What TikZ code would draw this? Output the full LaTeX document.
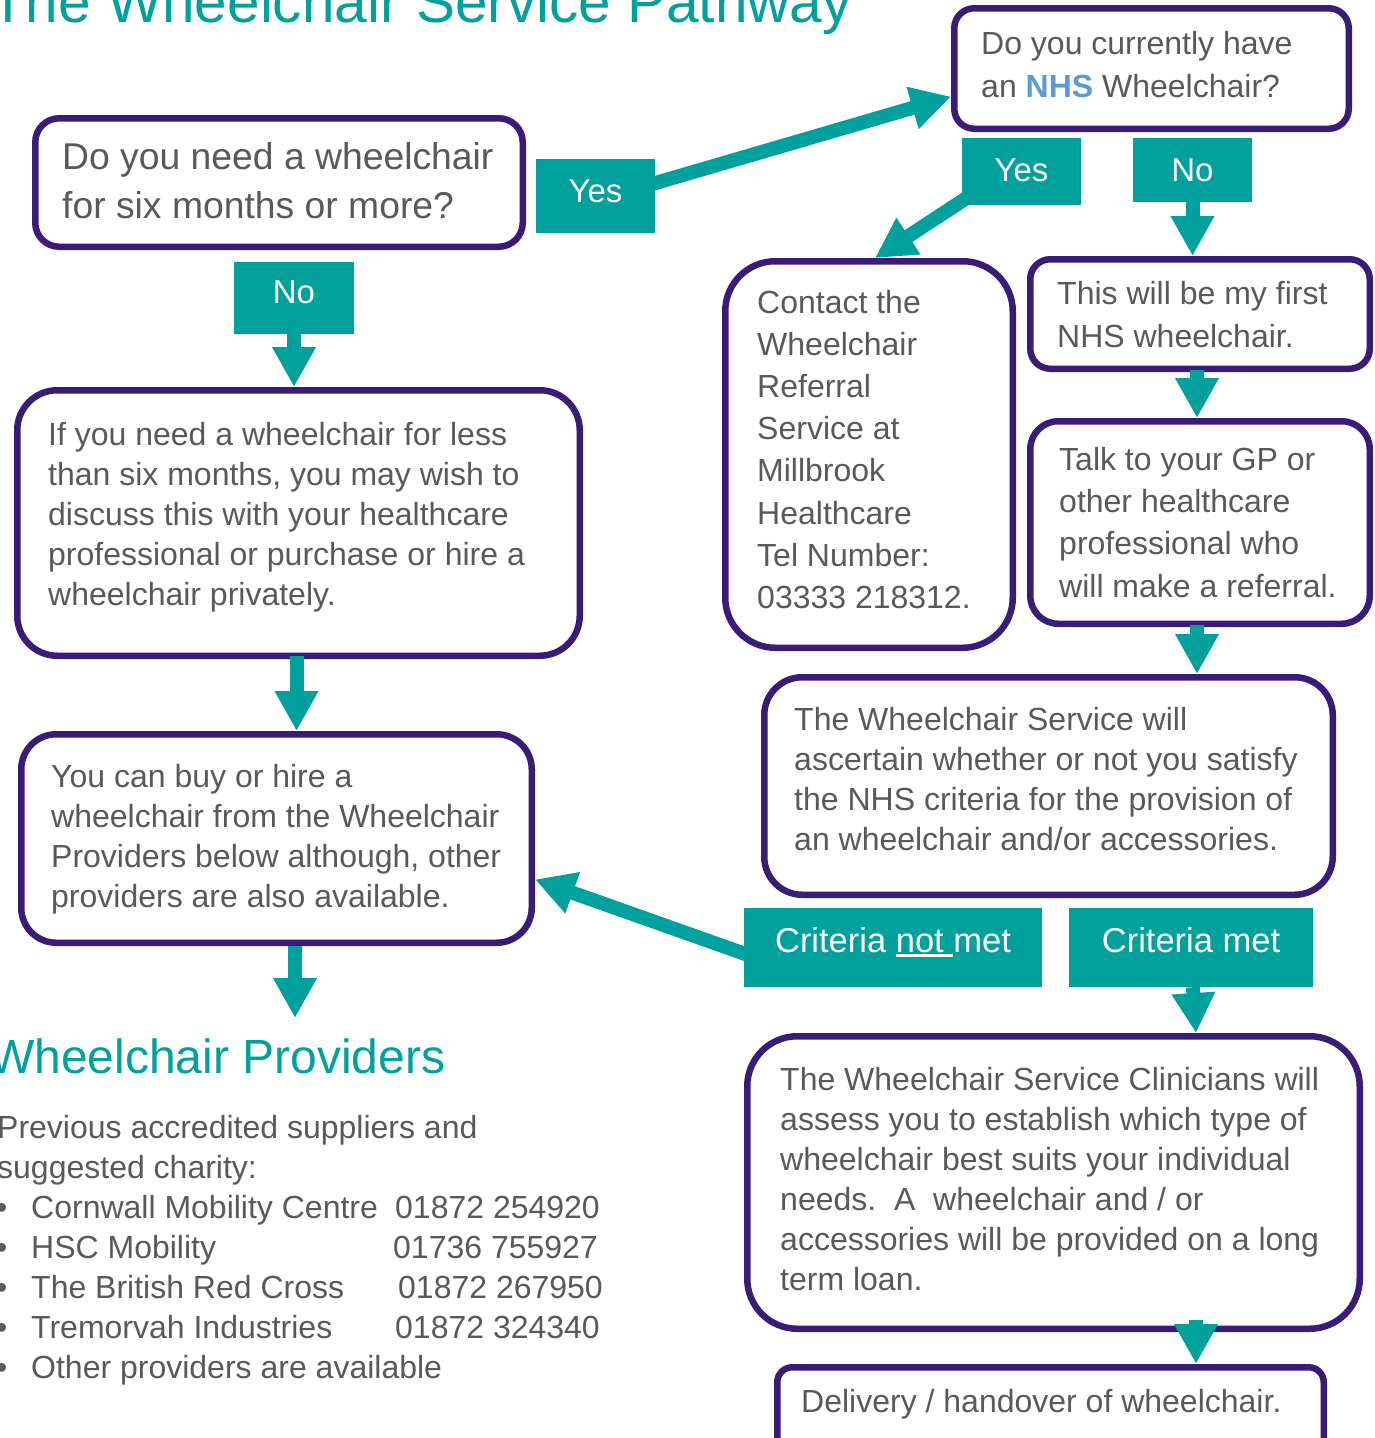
\documentclass[tikz,border=0pt]{standalone}
\usepackage{fontspec}
\setmainfont{Liberation Sans}
\usetikzlibrary{arrows.meta,calc}
\definecolor{tealc}{RGB}{0,161,157}
\definecolor{purp}{RGB}{56,28,120}
\definecolor{tgray}{RGB}{89,89,89}
\definecolor{nhsblue}{RGB}{91,155,213}
\newcommand\myul[1]{\setbox0\hbox{#1}\rlap{\color{white}\rule[-4.5pt]{\wd0}{2.5pt}}\box0}
\newcommand\fs[2]{\fontsize{#1}{#2}\selectfont}
% name, x1, y1, x2, y2 (outer edges, px), corner radius
\newcommand\mkbox[6]{\node[box,rounded corners=#6pt,minimum width={(#4-#2-6.5)*1pt},minimum height={(#5-#3-6.5)*1pt}] (#1) at ({(#2+#4)/2},{(#3+#5)/2}) {};}
% name, x1, y1, x2, y2, options, text
\newcommand\mklbl[7]{\node[lbl,#6,minimum width={(#4-#2)*1pt},minimum height={(#5-#3)*1pt}] (#1) at ({(#2+#4)/2},{(#3+#5)/2}) {#7};}
\pgfdeclarelayer{boxlayer}
\pgfdeclarelayer{arrowlayer}
\pgfsetlayers{boxlayer,arrowlayer,main}
\begin{document}
\begin{tikzpicture}[x=1pt,y=-1pt,
  box/.style={draw=purp,line width=6.5pt,fill=white,inner sep=0pt},
  lbl/.style={fill=tealc,text=white,inner sep=0pt,text height=24pt},
  txt/.style={anchor=base west,inner sep=0pt,text=tgray,align=left},
  body/.style={txt,font=\fs{32}{40}},
  arr/.style={draw=tealc,line width=14pt,-{Triangle[width=41pt,length=40pt]}},
  heading/.style={anchor=base west,inner sep=0pt,text=tealc}
]
\useasboundingbox (0,0) rectangle (1374,1438);
\begin{pgfonlayer}{boxlayer}
\fill[white] (0,0) rectangle (1374,1438);
% boxes
\mkbox{q1}{32}{115}{526}{250}{24}
\mkbox{q2}{951}{5}{1352}{132}{20}
\mkbox{contact}{722}{258}{1016}{651}{50}
\mkbox{first}{1027}{256}{1373}{372}{20}
\mkbox{talk}{1027}{418}{1373}{627}{28}
\mkbox{asc}{761}{674}{1336}{898}{38}
\mkbox{less}{14}{387}{583}{659}{40}
\mkbox{buy}{18}{731}{535}{946}{35}
\mkbox{clin}{744}{1033}{1363}{1332}{50}
\mkbox{deliv}{774}{1364}{1327}{1460}{15}
% texts in boxes (anchor = baseline of the last line)
\node[txt,font=\fs{37.3}{49}] (q1t) at (62,218) {Do you need a wheelchair\\for six months or more?};
\node[txt,font=\fs{32}{43}] (q2t) at (981,97) {Do you currently have\\an {\bfseries\color{nhsblue}NHS} Wheelchair?};
\node[txt,font=\fs{32}{42.2}] (contactt) at (757,608.4) {Contact the\\Wheelchair\\Referral\\Service at\\Millbrook\\Healthcare\\Tel Number:\\03333 218312.};
\node[txt,font=\fs{32}{43}] (firstt) at (1057,347) {This will be my first\\NHS wheelchair.};
\node[txt,font=\fs{32}{42.3}] (talkt) at (1059,597) {Talk to your GP or\\other healthcare\\professional who\\will make a referral.};
\node[body] (asct) at (794,850) {The Wheelchair Service will\\ascertain whether or not you satisfy\\the NHS criteria for the provision of\\an wheelchair and/or accessories.};
\node[body] (lesst) at (48,605) {If you need a wheelchair for less\\than six months, you may wish to\\discuss this with your healthcare\\professional or purchase or hire a\\wheelchair privately.};
\node[body] (buyt) at (51,907) {You can buy or hire a\\wheelchair from the Wheelchair\\Providers below although, other\\providers are also available.};
\node[body] (clint) at (780,1290) {The Wheelchair Service Clinicians will\\assess you to establish which type of\\wheelchair best suits your individual\\needs.\ \ A\ \ wheelchair and / or\\accessories will be provided on a long\\term loan.};
\node[body] (delivt) at (801,1412) {Delivery / handover of wheelchair.};
\end{pgfonlayer}
% headings and list
\node[heading,font=\fs{58.5}{60}] (title) at (-10,22) {The Wheelchair Service Pathway};
\node[heading,font=\fs{48}{50}] (hd) at (-11,1073) {Wheelchair Providers};
\node[body] (intro) at (-3,1178) {Previous accredited suppliers and\\suggested charity:};
\node[body] (bullets) at (-4,1378) {•\\•\\•\\•\\•};
\node[body] (names) at (31,1378) {Cornwall Mobility Centre\\HSC Mobility\\The British Red Cross\\Tremorvah Industries\\Other providers are available};
\node[body] (phones) at (393,1338) {\kern2pt 01872 254920\\01736 755927\\\kern5pt 01872 267950\\\kern2pt 01872 324340};
% labels
\mklbl{yes1}{536}{159}{655}{233}{font=\fs{33}{40},text depth=11pt}{Yes}
\mklbl{no1}{234}{262}{354}{334}{font=\fs{33}{40},text depth=13pt}{No}
\mklbl{yes2}{962}{138}{1081}{205}{font=\fs{33}{40},text depth=4pt}{Yes}
\mklbl{no2}{1133}{138}{1252}{202}{font=\fs{33}{40},text depth=1pt}{No}
\mklbl{notmet}{744}{908}{1042}{987}{font=\fs{34.5}{40},text depth=15pt}{Criteria \myul{not }met}
\mklbl{met}{1069}{908}{1313}{987}{font=\fs{34.5}{40},text depth=15pt}{Criteria met}
\coordinate (hdtip) at (295,1018);
% connectors
\begin{pgfonlayer}{arrowlayer}
\draw[arr] ([shift={(-10pt,10pt)}]yes1.east) -- (q2.188);
\draw[arr] ([shift={(6pt,8pt)}]yes2.south west) -- ([xshift=6pt]contact.north);
\draw[arr] ([shift={(10pt,-9.5pt)}]notmet.west) -- (buy.-9.5);
\draw[arr] (no1.south) -- (no1.south |- less.north);
\draw[arr] ($(less.south)+(-2,-3)$) -- ($(less.south |- buy.north)+(-2,0)$);
\draw[arr] (buy.south -| hdtip) -- (hdtip);
\draw[arr] (no2.south) -- (no2.south |- first.north);
\draw[arr] ($(first.south)+(-3,-2)$) -- ($(talk.north)+(-3,0)$);
\draw[arr] ($(talk.south)+(-3,-2)$) -- ($(talk.south |- asc.north)+(-3,0)$);
\draw[arr] ($(met.south)+(2,0)$) -- ($(met.south |- clin.north)+(5,0)$);
\draw[arr] ($(clin.south -| met.south)+(5,-12)$) -- ($(deliv.north -| met.south)+(5,0)$);
\end{pgfonlayer}
\end{tikzpicture}
\end{document}
